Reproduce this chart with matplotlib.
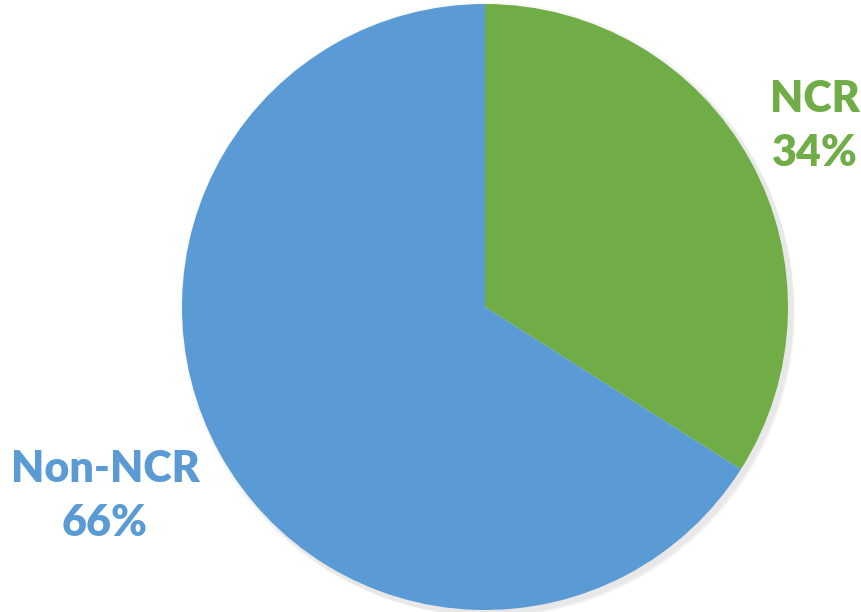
import matplotlib
matplotlib.use("Agg")

import matplotlib.pyplot as plt
from matplotlib.patches import Circle


labels = ["NCR", "Non-NCR"]
shares = [34, 66]
colors = ["#70AD47", "#5B9BD5"]

# pixel geometry of the reference (861x612)
W, H = 861, 612
CX, CY, R = 485, 307, 303


def px(x, y):
    return (x - CX) / R, (CY - y) / R


def main():
    fig = plt.figure(figsize=(W / 100, H / 100), dpi=100)
    ax = fig.add_axes([0, 0, 1, 1])

    # soft shadow round the pie
    for i, a in enumerate([0.04, 0.04, 0.05]):
        ax.add_patch(Circle((0.006 * (i + 1), -0.006 * (i + 1)), 1.0 + 0.004 * (3 - i),
                            color="0.3", alpha=a, lw=0, zorder=0))

    ax.pie(shares, colors=colors, startangle=90, counterclock=False, radius=1.0,
           wedgeprops=dict(linewidth=0), center=(0, 0), frame=True)
    ax.set_xlim(-CX / R, (W - CX) / R)
    ax.set_ylim(-(H - CY) / R, CY / R)
    ax.set_aspect("equal")
    ax.axis("off")

    font = dict(family="Lato", fontweight="heavy", fontsize=31, ha="center", va="center",
                linespacing=1.45)
    ax.text(*px(815, 126), f"{labels[0]}\n{shares[0]}%", color=colors[0], **font)
    ax.text(*px(105, 496), f"{labels[1]}\n{shares[1]}%", color=colors[1], **font)

    fig.savefig("out.png", dpi=100)
    plt.close(fig)


if __name__ == "__main__":
    main()
